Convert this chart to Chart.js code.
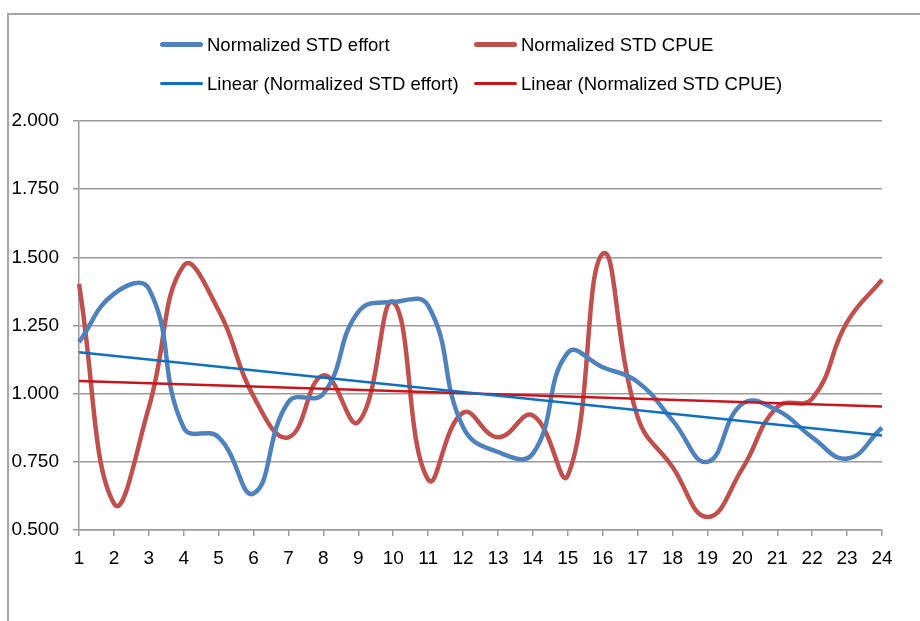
<!DOCTYPE html>
<html>
<head>
<meta charset="utf-8">
<script src="https://cdn.jsdelivr.net/npm/chart.js@4.4.1/dist/chart.umd.min.js"></script>
<style>
  html, body { margin: 0; padding: 0; background: #fff; }
  #wrap { position: relative; width: 920px; height: 621px; overflow: hidden; }
  #frame { position: absolute; left: 7px; top: 13px; width: 920px; height: 620px;
           border-left: 2px solid #a6a6a6; border-top: 2px solid #a6a6a6; }
  canvas { position: absolute; left: 0; top: 0; }
  .leg { position: absolute; font-family: "Liberation Sans", Arial, sans-serif; font-size: 18.5px;
         color: #000; white-space: nowrap; line-height: 22px; }
  .leg i { position: absolute; left: -47px; top: 10px; width: 43px; border-radius: 3px; }
</style>
</head>
<body>
<div id="wrap">
  <div id="frame"></div>
  <canvas id="chart" width="920" height="621"></canvas>
  <div id="legend"></div>
</div>
<script>
// x categories (years / periods)
const categories = ["1","2","3","4","5","6","7","8","9","10","11","12",
                    "13","14","15","16","17","18","19","20","21","22","23","24"];

// Normalized STD effort (blue)
const effort = [1.189, 1.366, 1.385, 0.875, 0.84, 0.634, 0.97, 1.00, 1.30, 1.336, 1.323, 0.878,
                0.786, 0.78, 1.15, 1.097, 1.043, 0.902, 0.75, 0.963, 0.939, 0.84, 0.762, 0.875];

// Normalized STD CPUE (red)
const cpue = [1.403, 0.598, 0.95, 1.47, 1.305, 0.99, 0.84, 1.067, 0.896, 1.336, 0.685, 0.93,
              0.84, 0.92, 0.70, 1.513, 0.915, 0.731, 0.548, 0.725, 0.951, 0.982, 1.262, 1.418];

// linear trend lines, read at first and last category
const trendEffort = [1.152, 0.847];
const trendCpue = [1.046, 0.953];

// y axis
const yMin = 0.5, yMax = 2.0, yStep = 0.25;

const colEffort = "#4f81bd";
const colCpue = "#c0504d";
const colTrendEffort = "#0f70c0";
const colTrendCpue = "#c8161e";

// put the two end values of a trend onto the category list
function trendSeries(ends) {
    const arr = categories.map(() => null);
    arr[0] = ends[0];
    arr[arr.length - 1] = ends[1];
    return arr;
}

const fontFamily = '"Liberation Sans", Arial, sans-serif';

new Chart(document.getElementById("chart"), {
    type: "line",
    data: {
        labels: categories,
        datasets: [
            { label: "Linear (Normalized STD effort)", data: trendSeries(trendEffort),
              borderColor: colTrendEffort, borderWidth: 2.5, pointRadius: 0, spanGaps: true, tension: 0 },
            { label: "Linear (Normalized STD CPUE)", data: trendSeries(trendCpue),
              borderColor: colTrendCpue, borderWidth: 2.5, pointRadius: 0, spanGaps: true, tension: 0 },
            { label: "Normalized STD effort", data: effort,
              borderColor: colEffort, borderWidth: 4.5, pointRadius: 0, tension: 0.45 },
            { label: "Normalized STD CPUE", data: cpue,
              borderColor: colCpue, borderWidth: 4.5, pointRadius: 0, tension: 0.45 }
        ]
    },
    options: {
        responsive: false,
        animation: false,
        devicePixelRatio: 1,
        layout: { padding: { top: 121, right: 38, bottom: 0, left: 0 } },
        plugins: { legend: { display: false }, tooltip: { enabled: false } },
        scales: {
            x: {
                offset: false,
                grid: { drawOnChartArea: false, drawTicks: true, tickLength: 6, color: "#9a9a9a", lineWidth: 1.5 },
                border: { color: "#9a9a9a", width: 1.5 },
                ticks: { color: "#000", font: { family: fontFamily, size: 19 }, padding: 11, maxRotation: 0, autoSkip: false },
                afterFit: (s) => { s.height = 91; }
            },
            y: {
                min: yMin, max: yMax,
                grid: { color: "#9a9a9a", lineWidth: 1.5, tickLength: 6 },
                border: { color: "#9a9a9a", width: 1.5 },
                ticks: { stepSize: yStep, color: "#000", font: { family: fontFamily, size: 19 }, padding: 14,
                         callback: (v) => v.toFixed(3) },
                afterFit: (s) => { s.width = 79; }
            }
        }
    }
});

// legend in two columns, like the original
const legendItems = [
    { text: "Normalized STD effort", color: colEffort, width: 5, left: 207, top: 34 },
    { text: "Normalized STD CPUE", color: colCpue, width: 5, left: 521, top: 34 },
    { text: "Linear (Normalized STD effort)", color: colTrendEffort, width: 3, left: 207, top: 73 },
    { text: "Linear (Normalized STD CPUE)", color: colTrendCpue, width: 3, left: 521, top: 73 }
];
const legend = document.getElementById("legend");
legendItems.forEach((item) => {
    const div = document.createElement("div");
    div.className = "leg";
    div.style.left = item.left + "px";
    div.style.top = item.top + "px";
    div.innerHTML = `<i style="height:${item.width}px;background:${item.color};margin-top:${-item.width / 2}px"></i>${item.text}`;
    legend.appendChild(div);
});
</script>
</body>
</html>
